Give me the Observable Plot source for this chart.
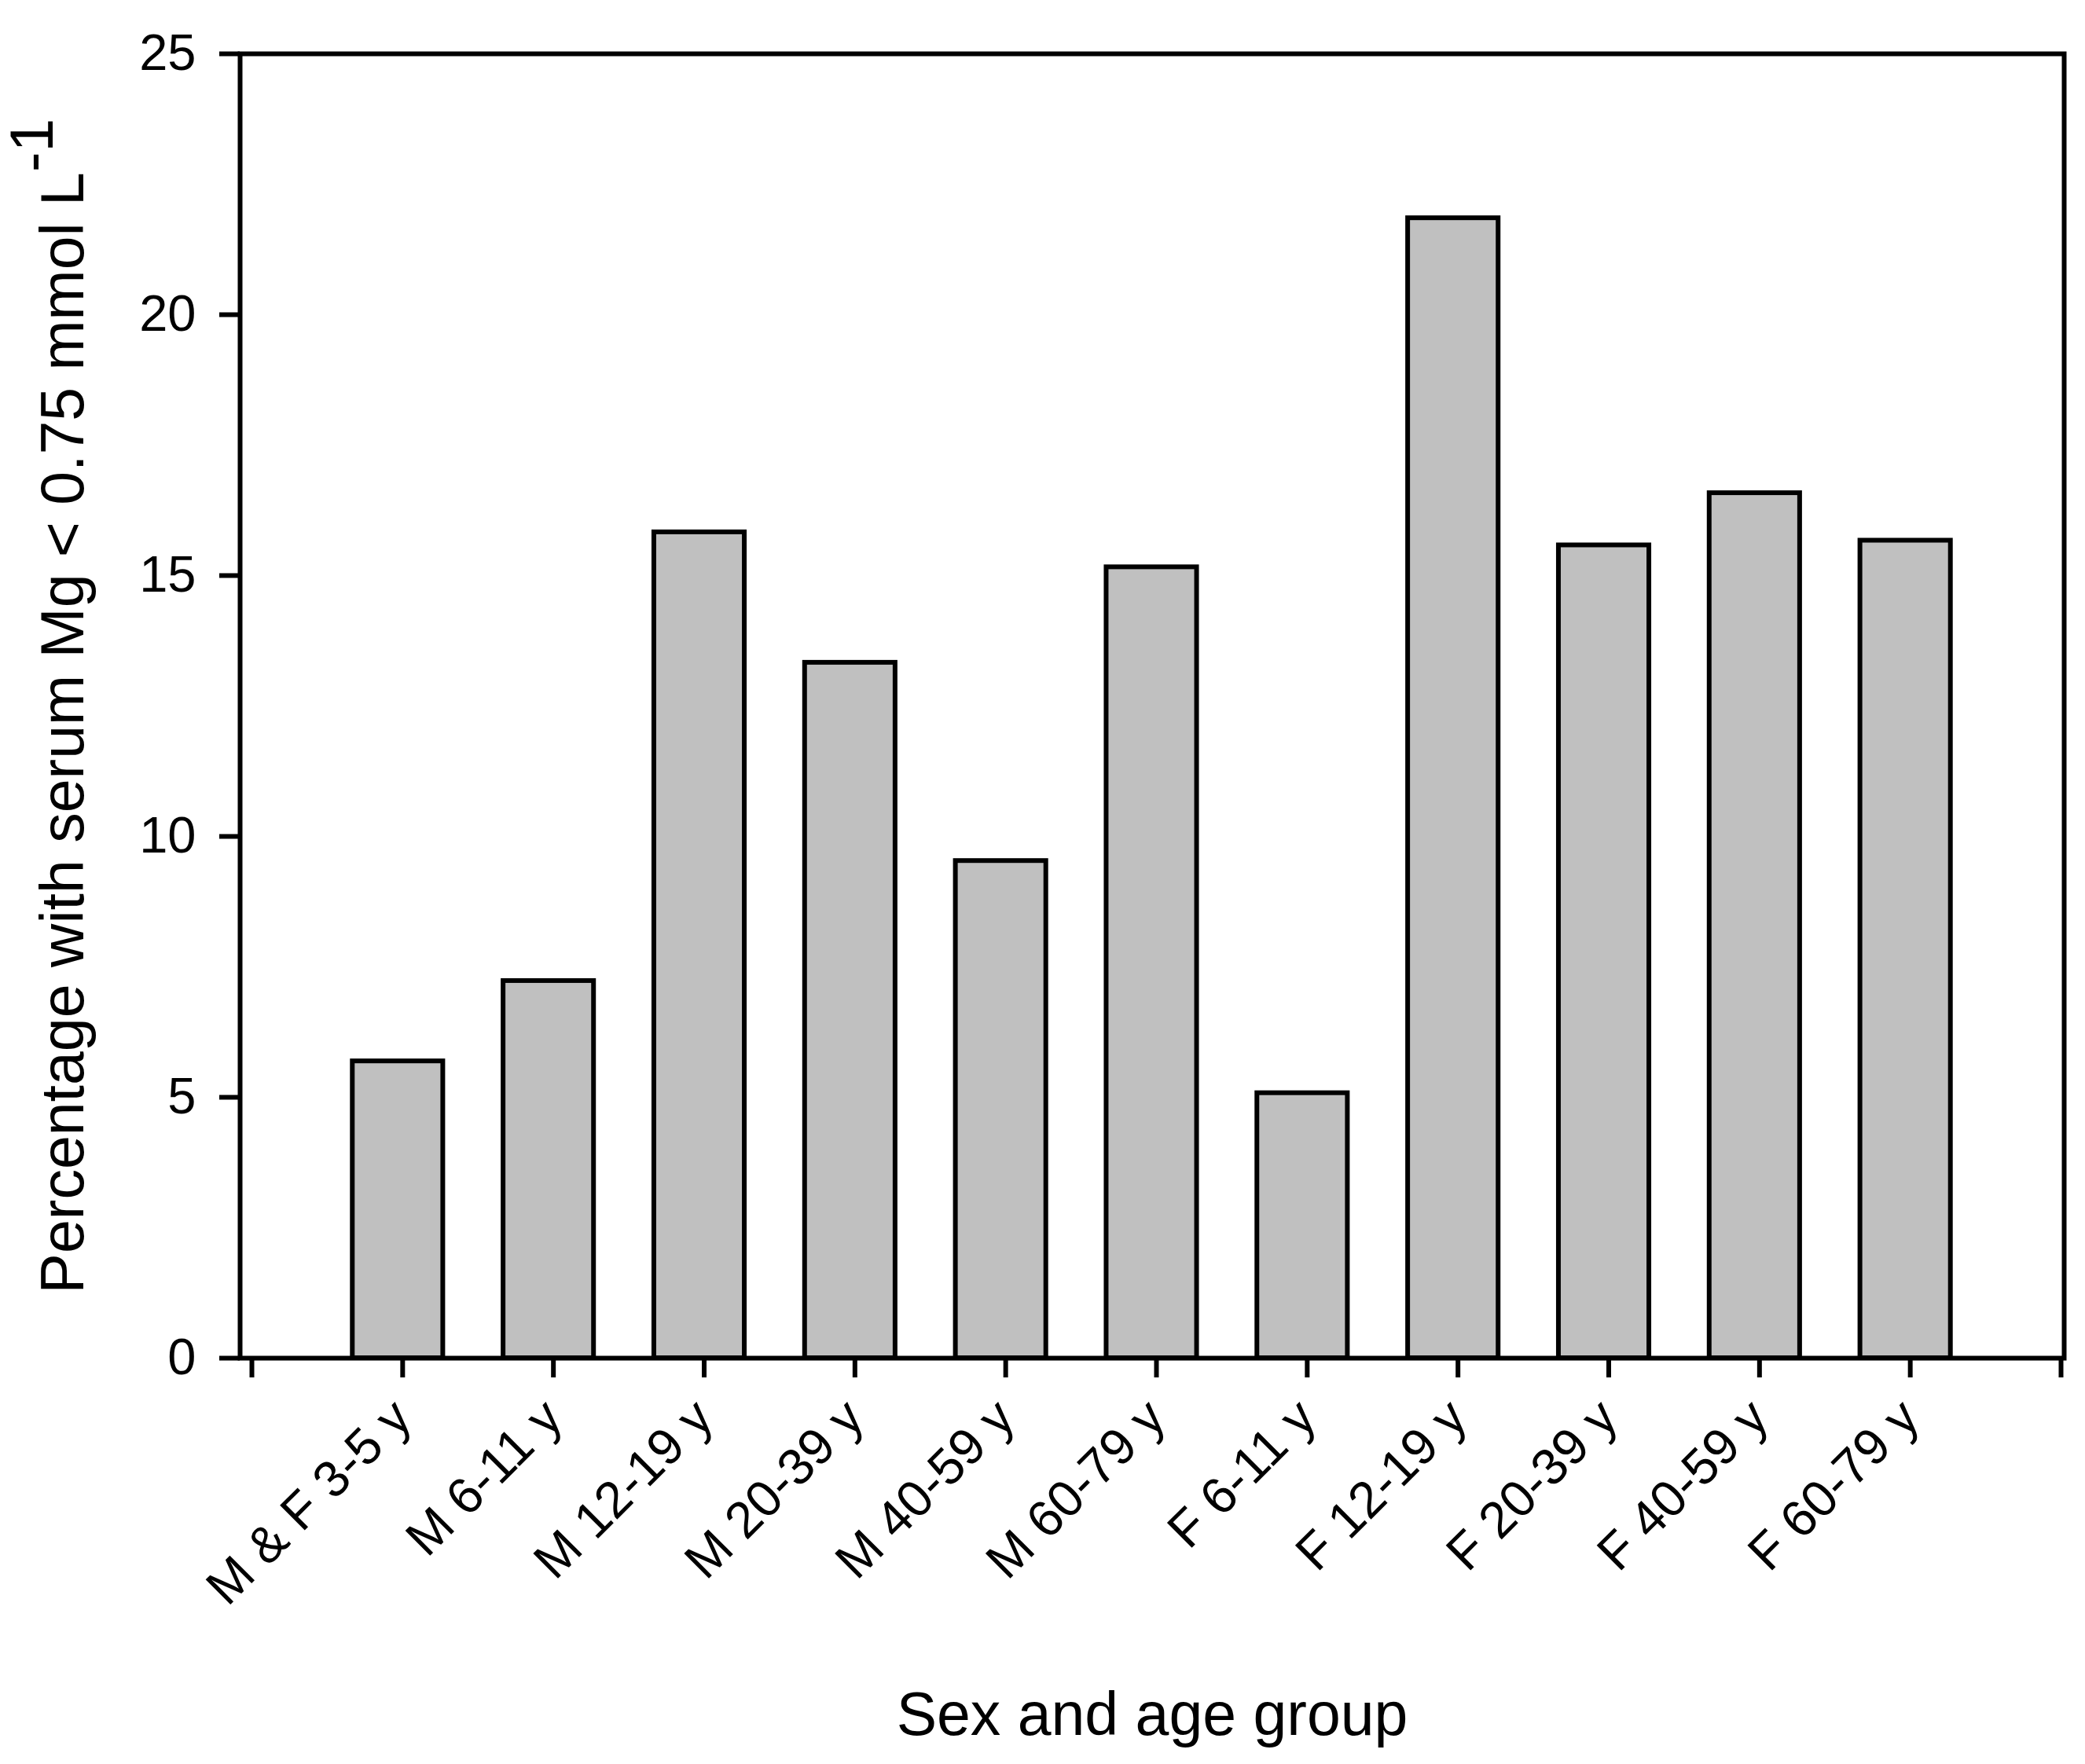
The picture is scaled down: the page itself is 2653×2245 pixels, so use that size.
<!DOCTYPE html>
<html><head><meta charset="utf-8">
<script src="https://cdn.jsdelivr.net/npm/d3@7"></script>
<script src="https://cdn.jsdelivr.net/npm/@observablehq/plot@0.6"></script>
<style>html,body{margin:0;padding:0;background:#fff} svg{display:block}</style>
</head><body><div id="chart"></div>
<script>
const categories = ["M & F 3-5 y","M 6-11 y","M 12-19 y","M 20-39 y","M 40-59 y","M 60-79 y","F 6-11 y","F 12-19 y","F 20-39 y","F 40-59 y","F 60-79 y"];
const values = [5.69, 7.23, 15.83, 13.33, 9.53, 15.16, 5.08, 21.85, 15.58, 16.58, 15.67];
const yTicks = [0, 5, 10, 15, 20, 25];
const xTitle = "Sex and age group";
const yTitle = "Percentage with serum Mg < 0.75 mmol L";
const ySup = "-1";

const data = categories.map((c, i) => ({category: c, pos: i + 1, value: values[i]}));
const xTickPositions = d3.range(0, categories.length + 2);
const font = "'Liberation Sans', Arial, Helvetica, sans-serif";

const chart = Plot.plot({
  width: 2653, height: 2245,
  marginLeft: 305, marginRight: 27, marginTop: 68, marginBottom: 517,
  style: {fontFamily: font, background: "#fff", color: "#000", overflow: "visible"},
  x: {type: "linear", domain: [0, categories.length + 1], insetLeft: 9, insetRight: 10},
  y: {domain: [0, 25]},
  marks: [
    Plot.rectY(data, {x1: d => d.pos - 0.3, x2: d => d.pos + 0.3, y1: 0, y2: "value", fill: "#c0c0c0", stroke: "#000", strokeWidth: 6}),
    Plot.frame({stroke: "#000", strokeWidth: 6}),
    Plot.axisY({ticks: yTicks, tickSize: 26, tickPadding: 30, fontSize: 65, strokeWidth: 6, label: null, tickFormat: d => String(d)}),
    Plot.axisX({ticks: xTickPositions, tickSize: 25, tickPadding: 40, tickRotate: -45, lineAnchor: "middle", textAnchor: "end", dx: 6, fontSize: 65, strokeWidth: 6, label: null, tickFormat: i => categories[i - 1] ?? ""}),
    Plot.text([xTitle], {frameAnchor: "bottom", dy: 479, lineAnchor: "bottom", textAnchor: "middle", fontSize: 77, text: d => d}),
    Plot.text([yTitle], {frameAnchor: "left", dx: -200, rotate: -90, lineAnchor: "bottom", textAnchor: "middle", fontSize: 77, text: d => d})
  ]
});
document.getElementById("chart").appendChild(chart);
d3.select(chart).selectAll("text")
  .filter(function() { return this.textContent === yTitle; })
  .append("tspan").attr("dy", "-0.5em").text(ySup);
</script>
</body></html>
